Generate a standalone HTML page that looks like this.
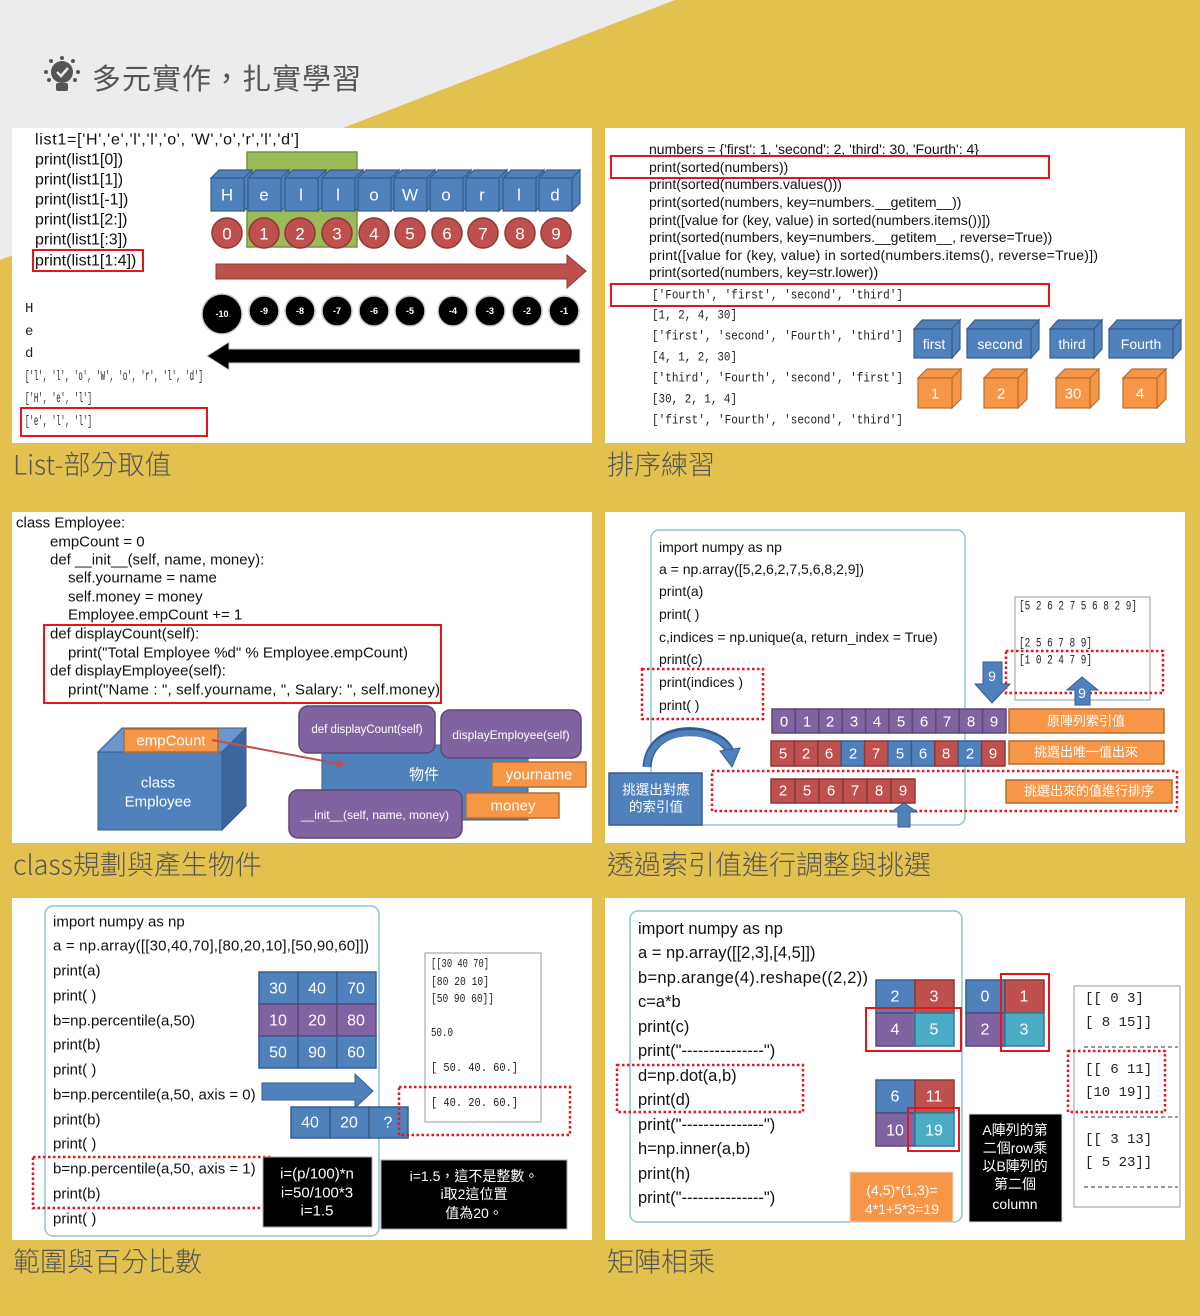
<!DOCTYPE html>
<html><head><meta charset="utf-8"><style>
html,body{margin:0;padding:0;background:#e2c14f;}
svg{display:block}
text{font-family:"Liberation Sans","Noto Sans CJK TC",sans-serif;}
.c{fill:#111;font-size:15px;dominant-baseline:central}
.w{fill:#fff;text-anchor:middle;dominant-baseline:central}
.m text{font-family:"Liberation Mono","Noto Sans CJK TC",monospace;fill:#222;dominant-baseline:central}
.cap{fill:#555;font-size:26px;dominant-baseline:central;font-family:"Noto Sans CJK TC","Liberation Sans",sans-serif;font-weight:300}
.bl{fill:#4f81bd;stroke:#385d8a;stroke-width:1.5}
.rd{fill:#c0504d;stroke:#8c3836;stroke-width:1.5}
.pu{fill:#8064a2;stroke:#5c4776;stroke-width:1.5}
.te{fill:#4bacc6;stroke:#357d91;stroke-width:1.5}
.or{fill:#f79646;stroke:#b66d31;stroke-width:1.5}
.rb{fill:none;stroke:#e8141c;stroke-width:2}
.dr{fill:none;stroke:#e8141c;stroke-width:2.5;stroke-dasharray:2.5 2.5}
</style></head><body>
<svg width="1200" height="1316" viewBox="0 0 1200 1316" xmlns="http://www.w3.org/2000/svg">
<rect width="1200" height="1316" fill="#e2c14f"/>
<polygon points="0,0 675,0 0,260" fill="#ececec"/>
<g fill="#555">
<circle cx="62" cy="72" r="11"/><rect x="56" y="83" width="12" height="8" rx="2"/>
<circle cx="46" cy="72" r="2"/><circle cx="78" cy="72" r="2"/><circle cx="62" cy="58" r="2"/><circle cx="51" cy="61" r="2"/><circle cx="73" cy="61" r="2"/><circle cx="49" cy="80" r="2"/><circle cx="75" cy="80" r="2"/>
</g>
<path d="M57,72 l4,4 l7,-8" stroke="#ececec" stroke-width="2.5" fill="none"/>
<text x="92" y="77" style="font-size:29px;fill:#555;dominant-baseline:central;font-family:'Noto Sans CJK TC',sans-serif;letter-spacing:1px">多元實作，扎實學習</text>

<rect x="12" y="128" width="580" height="315" fill="#fff"/>
<rect x="605" y="128" width="580" height="315" fill="#fff"/>
<rect x="12" y="512" width="580" height="331" fill="#fff"/>
<rect x="605" y="512" width="580" height="331" fill="#fff"/>
<rect x="12" y="898" width="580" height="342" fill="#fff"/>
<rect x="605" y="898" width="580" height="342" fill="#fff"/>

<text class="cap" x="13" y="463" style="font-size:27px">List-部分取值</text>
<text class="cap" x="607" y="463" style="font-size:27px">排序練習</text>
<text class="cap" x="13" y="863" style="font-size:27px">class規劃與產生物件</text>
<text class="cap" x="607" y="863" style="font-size:27px">透過索引值進行調整與挑選</text>
<text class="cap" x="13" y="1260" style="font-size:27px">範圍與百分比數</text>
<text class="cap" x="607" y="1260" style="font-size:27px">矩陣相乘</text>

<!-- P1 -->
<g class="c" style="font-size:16px">
<text x="35" y="140" textLength="264">list1=['H','e','l','l','o', 'W','o','r','l','d']</text>
<text x="35" y="160">print(list1[0])</text>
<text x="35" y="180">print(list1[1])</text>
<text x="35" y="200">print(list1[-1])</text>
<text x="35" y="220">print(list1[2:])</text>
<text x="35" y="240">print(list1[:3])</text>
<text x="35" y="261">print(list1[1:4])</text>
</g>
<rect class="rb" x="33" y="250" width="110" height="21"/>
<rect x="247" y="152" width="110" height="95" fill="#9bbb59" stroke="#77933c" stroke-width="1.5"/>
<g fill="#4f81bd" stroke="#385d8a" stroke-width="1.2">
<polygon points="211,178 219,170 252,170 244,178"/><polygon points="244,178 252,170 252,203 244,211"/><rect x="211" y="178" width="33" height="33"/>
<polygon points="248,178 256,170 289,170 281,178"/><polygon points="281,178 289,170 289,203 281,211"/><rect x="248" y="178" width="33" height="33"/>
<polygon points="285,178 293,170 326,170 318,178"/><polygon points="318,178 326,170 326,203 318,211"/><rect x="285" y="178" width="33" height="33"/>
<polygon points="322,178 330,170 363,170 355,178"/><polygon points="355,178 363,170 363,203 355,211"/><rect x="322" y="178" width="33" height="33"/>
<polygon points="358,178 366,170 399,170 391,178"/><polygon points="391,178 399,170 399,203 391,211"/><rect x="358" y="178" width="33" height="33"/>
<polygon points="394,178 402,170 435,170 427,178"/><polygon points="427,178 435,170 435,203 427,211"/><rect x="394" y="178" width="33" height="33"/>
<polygon points="430,178 438,170 471,170 463,178"/><polygon points="463,178 471,170 471,203 463,211"/><rect x="430" y="178" width="33" height="33"/>
<polygon points="466,178 474,170 507,170 499,178"/><polygon points="499,178 507,170 507,203 499,211"/><rect x="466" y="178" width="33" height="33"/>
<polygon points="503,178 511,170 544,170 536,178"/><polygon points="536,178 544,170 544,203 536,211"/><rect x="503" y="178" width="33" height="33"/>
<polygon points="539,178 547,170 580,170 572,178"/><polygon points="572,178 580,170 580,203 572,211"/><rect x="539" y="178" width="33" height="33"/>
</g>
<g class="w" style="font-size:17px">
<text x="227" y="195">H</text><text x="264" y="195">e</text><text x="301" y="195">l</text><text x="338" y="195">l</text><text x="374" y="195">o</text><text x="410" y="195">W</text><text x="446" y="195">o</text><text x="482" y="195">r</text><text x="519" y="195">l</text><text x="555" y="195">d</text>
</g>
<g class="rd">
<circle cx="227" cy="233" r="15"/><circle cx="264" cy="233" r="15"/><circle cx="300" cy="233" r="15"/><circle cx="337" cy="233" r="15"/><circle cx="374" cy="233" r="15"/><circle cx="410" cy="233" r="15"/><circle cx="447" cy="233" r="15"/><circle cx="483" cy="233" r="15"/><circle cx="520" cy="233" r="15"/><circle cx="556" cy="233" r="15"/>
</g>
<g class="w" style="font-size:17px">
<text x="227" y="234">0</text><text x="264" y="234">1</text><text x="300" y="234">2</text><text x="337" y="234">3</text><text x="374" y="234">4</text><text x="410" y="234">5</text><text x="447" y="234">6</text><text x="483" y="234">7</text><text x="520" y="234">8</text><text x="556" y="234">9</text>
</g>
<polygon points="216,264 567,264 567,255 586,271 567,288 567,279 216,279" fill="#c0504d" stroke="#8c3836" stroke-width="1"/>
<g fill="#000" stroke="#ccc" stroke-width="1.5">
<circle cx="222" cy="314" r="20"/><circle cx="264" cy="311" r="15"/><circle cx="300" cy="311" r="15"/><circle cx="337" cy="311" r="15"/><circle cx="374" cy="311" r="15"/><circle cx="410" cy="311" r="15"/><circle cx="453" cy="311" r="15"/><circle cx="490" cy="311" r="15"/><circle cx="527" cy="311" r="15"/><circle cx="564" cy="311" r="15"/>
</g>
<g class="w" style="font-size:9px;font-weight:bold">
<text x="222" y="314">-10</text><text x="264" y="311">-9</text><text x="300" y="311">-8</text><text x="337" y="311">-7</text><text x="374" y="311">-6</text><text x="410" y="311">-5</text><text x="453" y="311">-4</text><text x="490" y="311">-3</text><text x="527" y="311">-2</text><text x="564" y="311">-1</text>
</g>
<polygon points="207,356 229,342 229,349 580,349 580,363 229,363 229,370" fill="#000" stroke="#ccc" stroke-width="1"/>
<g class="m" style="font-size:14px">
<text x="25" y="309">H</text><text x="25" y="332">e</text><text x="25" y="354">d</text>
<text x="25" y="377" textLength="178" lengthAdjust="spacingAndGlyphs">['l', 'l', 'o', 'W', 'o', 'r', 'l', 'd']</text>
<text x="25" y="399" textLength="67" lengthAdjust="spacingAndGlyphs">['H', 'e', 'l']</text>
<text x="25" y="422" textLength="67" lengthAdjust="spacingAndGlyphs">['e', 'l', 'l']</text>
</g>
<rect class="rb" x="21" y="408" width="186" height="28"/>

<!-- P2 -->
<g class="c" style="font-size:14px">
<text x="649" y="149">numbers = {'first': 1, 'second': 2, 'third': 30, 'Fourth': 4}</text>
<text x="649" y="167">print(sorted(numbers))</text>
<text x="649" y="184">print(sorted(numbers.values()))</text>
<text x="649" y="202">print(sorted(numbers, key=numbers.__getitem__))</text>
<text x="649" y="220">print([value for (key, value) in sorted(numbers.items())])</text>
<text x="649" y="237">print(sorted(numbers, key=numbers.__getitem__, reverse=True))</text>
<text x="649" y="255" textLength="449">print([value for (key, value) in sorted(numbers.items(), reverse=True)])</text>
<text x="649" y="272">print(sorted(numbers, key=str.lower))</text>
</g>
<rect class="rb" x="611" y="156" width="438" height="22"/>
<rect class="rb" x="611" y="284" width="438" height="22"/>
<g class="m" style="font-size:13px">
<text x="652" y="295" textLength="251" lengthAdjust="spacingAndGlyphs">['Fourth', 'first', 'second', 'third']</text>
<text x="652" y="315" textLength="85" lengthAdjust="spacingAndGlyphs">[1, 2, 4, 30]</text>
<text x="652" y="336" textLength="251" lengthAdjust="spacingAndGlyphs">['first', 'second', 'Fourth', 'third']</text>
<text x="652" y="357" textLength="85" lengthAdjust="spacingAndGlyphs">[4, 1, 2, 30]</text>
<text x="652" y="378" textLength="251" lengthAdjust="spacingAndGlyphs">['third', 'Fourth', 'second', 'first']</text>
<text x="652" y="399" textLength="85" lengthAdjust="spacingAndGlyphs">[30, 2, 1, 4]</text>
<text x="652" y="420" textLength="251" lengthAdjust="spacingAndGlyphs">['first', 'Fourth', 'second', 'third']</text>
</g>
<g fill="#4f81bd" stroke="#385d8a" stroke-width="1.2">
<polygon points="914,329 922,320 960,320 952,329"/><polygon points="952,329 960,320 960,349 952,358"/><rect x="914" y="329" width="38" height="29"/>
<polygon points="967,329 975,320 1039,320 1031,329"/><polygon points="1031,329 1039,320 1039,349 1031,358"/><rect x="967" y="329" width="64" height="29"/>
<polygon points="1050,329 1058,320 1102,320 1094,329"/><polygon points="1094,329 1102,320 1102,349 1094,358"/><rect x="1050" y="329" width="44" height="29"/>
<polygon points="1109,329 1117,320 1181,320 1173,329"/><polygon points="1173,329 1181,320 1181,349 1173,358"/><rect x="1109" y="329" width="64" height="29"/>
</g>
<g class="w" style="font-size:14px">
<text x="934" y="344">first</text><text x="1000" y="344">second</text><text x="1072" y="344">third</text><text x="1141" y="344">Fourth</text>
</g>
<g fill="#f79646" stroke="#b66d31" stroke-width="1.2">
<polygon points="918,378 927,369 961,369 952,378"/><polygon points="952,378 961,369 961,399 952,408"/><rect x="918" y="378" width="34" height="30"/>
<polygon points="984,378 993,369 1027,369 1018,378"/><polygon points="1018,378 1027,369 1027,399 1018,408"/><rect x="984" y="378" width="34" height="30"/>
<polygon points="1056,378 1065,369 1099,369 1090,378"/><polygon points="1090,378 1099,369 1099,399 1090,408"/><rect x="1056" y="378" width="34" height="30"/>
<polygon points="1123,378 1132,369 1166,369 1157,378"/><polygon points="1157,378 1166,369 1166,399 1157,408"/><rect x="1123" y="378" width="34" height="30"/>
</g>
<g class="w" style="font-size:15px">
<text x="935" y="394">1</text><text x="1001" y="394">2</text><text x="1073" y="394">30</text><text x="1140" y="394">4</text>
</g>

<!-- P3 -->
<g class="c" style="font-size:15px">
<text x="16" y="523">class Employee:</text>
<text x="50" y="542">empCount = 0</text>
<text x="50" y="560">def __init__(self, name, money):</text>
<text x="68" y="578">self.yourname = name</text>
<text x="68" y="597">self.money = money</text>
<text x="68" y="615">Employee.empCount  += 1</text>
<text x="50" y="634">def displayCount(self):</text>
<text x="68" y="653">print("Total Employee %d" % Employee.empCount)</text>
<text x="50" y="671">def displayEmployee(self):</text>
<text x="68" y="690" textLength="372">print("Name : ", self.yourname, ", Salary: ", self.money)</text>
</g>
<rect class="rb" x="44" y="625" width="397" height="78"/>
<polygon points="98,752 122,728 246,728 222,752" fill="#6b96cc" stroke="#385d8a"/>
<polygon points="222,752 246,728 246,806 222,830" fill="#3c679d" stroke="#385d8a"/>
<rect x="98" y="752" width="124" height="78" fill="#4f81bd" stroke="#385d8a"/>
<rect x="124" y="729" width="94" height="23" class="or"/>
<text class="w" x="171" y="741" style="font-size:15px">empCount</text>
<text class="w" x="158" y="783" style="font-size:15px">class</text>
<text class="w" x="158" y="802" style="font-size:15px">Employee</text>
<rect x="322" y="745" width="206" height="75" fill="#4f81bd" stroke="#385d8a"/>
<text class="w" x="424" y="775" style="font-size:15px">物件</text>
<rect x="299" y="706" width="136" height="47" rx="9" class="pu"/>
<text class="w" x="367" y="730" style="font-size:11.5px">def displayCount(self)</text>
<rect x="441" y="710" width="140" height="48" rx="9" class="pu"/>
<text class="w" x="511" y="735" style="font-size:12px">displayEmployee(self)</text>
<rect x="289" y="790" width="173" height="48" rx="9" class="pu"/>
<text class="w" x="375" y="815" style="font-size:12px">__init__(self, name, money)</text>
<rect x="492" y="762" width="94" height="25" class="or"/>
<text class="w" x="539" y="775" style="font-size:15px">yourname</text>
<rect x="466" y="793" width="93" height="25" class="or"/>
<text class="w" x="513" y="806" style="font-size:15px">money</text>
<line x1="212" y1="740" x2="340" y2="764" stroke="#c0504d" stroke-width="2"/>
<polygon points="346,765 336,768 338,760" fill="#c0504d"/>

<!-- P4 -->
<rect x="651" y="530" width="314" height="295" rx="8" fill="none" stroke="#8cc5cf" stroke-width="1.5"/>
<g class="c" style="font-size:14px">
<text x="659" y="547">import numpy as np</text>
<text x="659" y="569">a = np.array([5,2,6,2,7,5,6,8,2,9])</text>
<text x="659" y="591">print(a)</text>
<text x="659" y="614">print( )</text>
<text x="659" y="637">c,indices = np.unique(a, return_index = True)</text>
<text x="659" y="659">print(c)</text>
<text x="659" y="682">print(indices )</text>
<text x="659" y="705">print( )</text>
</g>
<rect class="dr" x="642" y="669" width="121" height="50"/>
<rect x="1015" y="597" width="135" height="103" fill="#fff" stroke="#999"/>
<g class="m" style="font-size:13px">
<text x="1019" y="606" textLength="118" lengthAdjust="spacingAndGlyphs">[5 2 6 2 7 5 6 8 2 9]</text>
<text x="1019" y="643" textLength="73" lengthAdjust="spacingAndGlyphs">[2 5 6 7 8 9]</text>
<text x="1019" y="660" textLength="73" lengthAdjust="spacingAndGlyphs">[1 0 2 4 7 9]</text>
</g>
<rect class="dr" x="1006" y="651" width="157" height="42"/>
<polygon points="983,662 1002,662 1002,684 1010,684 992,703 975,684 983,684" fill="#4f81bd" stroke="#385d8a"/>
<text class="w" x="992" y="676" style="font-size:14px">9</text>
<polygon points="1075,705 1090,705 1090,690 1098,690 1082,677 1067,690 1075,690" fill="#4f81bd" stroke="#385d8a"/>
<text class="w" x="1082" y="693" style="font-size:14px">9</text>
<g class="pu">
<rect x="772" y="709" width="23.4" height="24"/><rect x="795.4" y="709" width="23.4" height="24"/><rect x="818.8" y="709" width="23.4" height="24"/><rect x="842.2" y="709" width="23.4" height="24"/><rect x="865.6" y="709" width="23.4" height="24"/><rect x="889" y="709" width="23.4" height="24"/><rect x="912.4" y="709" width="23.4" height="24"/><rect x="935.8" y="709" width="23.4" height="24"/><rect x="959.2" y="709" width="23.4" height="24"/><rect x="982.6" y="709" width="23.4" height="24"/>
</g>
<g class="w" style="font-size:15px">
<text x="784" y="722">0</text><text x="807" y="722">1</text><text x="830" y="722">2</text><text x="854" y="722">3</text><text x="877" y="722">4</text><text x="901" y="722">5</text><text x="924" y="722">6</text><text x="947" y="722">7</text><text x="971" y="722">8</text><text x="994" y="722">9</text>
</g>
<rect x="771" y="741" width="23.4" height="25" class="rd"/><rect x="794.4" y="741" width="23.4" height="25" class="rd"/><rect x="817.8" y="741" width="23.4" height="25" class="rd"/><rect x="841.2" y="741" width="23.4" height="25" class="bl"/><rect x="864.6" y="741" width="23.4" height="25" class="rd"/><rect x="888" y="741" width="23.4" height="25" class="bl"/><rect x="911.4" y="741" width="23.4" height="25" class="bl"/><rect x="934.8" y="741" width="23.4" height="25" class="rd"/><rect x="958.2" y="741" width="23.4" height="25" class="bl"/><rect x="981.6" y="741" width="23.4" height="25" class="rd"/>
<g class="w" style="font-size:15px">
<text x="783" y="754">5</text><text x="806" y="754">2</text><text x="829" y="754">6</text><text x="853" y="754">2</text><text x="876" y="754">7</text><text x="900" y="754">5</text><text x="923" y="754">6</text><text x="946" y="754">8</text><text x="970" y="754">2</text><text x="993" y="754">9</text>
</g>
<rect x="1009" y="709" width="155" height="24" class="or" stroke-width="3"/>
<text class="w" x="1086" y="721" style="font-size:13px">原陣列索引值</text>
<rect x="1009" y="741" width="155" height="23" class="or" stroke-width="3"/>
<text class="w" x="1086" y="752" style="font-size:13px">挑選出唯一值出來</text>
<rect class="dr" x="712" y="771" width="465" height="40"/>
<rect x="1006" y="780" width="166" height="23" class="or" stroke-width="3"/>
<text class="w" x="1089" y="791" style="font-size:13px">挑選出來的值進行排序</text>
<g class="rd">
<rect x="771" y="779" width="24" height="24"/><rect x="795" y="779" width="24" height="24"/><rect x="819" y="779" width="24" height="24"/><rect x="843" y="779" width="24" height="24"/><rect x="867" y="779" width="24" height="24"/><rect x="891" y="779" width="24" height="24"/>
</g>
<g class="w" style="font-size:15px">
<text x="783" y="791">2</text><text x="807" y="791">5</text><text x="831" y="791">6</text><text x="855" y="791">7</text><text x="879" y="791">8</text><text x="903" y="791">9</text>
</g>
<polygon points="898,827 910,827 910,812 917,812 904,803 891,812 898,812" fill="#4f81bd" stroke="#385d8a"/>
<rect x="609" y="773" width="93" height="52" fill="#4f81bd" stroke="#385d8a" stroke-width="1.5"/>
<text class="w" x="656" y="790" style="font-size:13.5px">挑選出對應</text>
<text class="w" x="656" y="807" style="font-size:13.5px">的索引值</text>
<path d="M647,767 C650,720 720,725 730,752" fill="none" stroke="#2f5c8f" stroke-width="9"/>
<path d="M647,767 C650,722 720,727 730,752" fill="none" stroke="#4f81bd" stroke-width="6"/>
<polygon points="720,751 740,748 732,767" fill="#4f81bd" stroke="#385d8a"/>

<!-- P5 -->
<rect x="45" y="906" width="334" height="330" rx="8" fill="none" stroke="#8cc5cf" stroke-width="1.5"/>
<g class="c" style="font-size:15px">
<text x="53" y="922">import numpy as np</text>
<text x="53" y="946" textLength="316">a = np.array([[30,40,70],[80,20,10],[50,90,60]])</text>
<text x="53" y="971">print(a)</text>
<text x="53" y="996">print( )</text>
<text x="53" y="1021">b=np.percentile(a,50)</text>
<text x="53" y="1045">print(b)</text>
<text x="53" y="1070">print( )</text>
<text x="53" y="1095">b=np.percentile(a,50, axis  = 0)</text>
<text x="53" y="1120">print(b)</text>
<text x="53" y="1144">print( )</text>
<text x="53" y="1169">b=np.percentile(a,50, axis  = 1)</text>
<text x="53" y="1194">print(b)</text>
<text x="53" y="1219">print( )</text>
</g>
<rect class="dr" x="33" y="1157" width="238" height="51"/>
<rect x="259" y="972" width="39" height="32" class="bl"/><rect x="298" y="972" width="39" height="32" class="bl"/><rect x="337" y="972" width="39" height="32" class="bl"/>
<rect x="259" y="1004" width="39" height="32" class="pu"/><rect x="298" y="1004" width="39" height="32" class="pu"/><rect x="337" y="1004" width="39" height="32" class="pu"/>
<rect x="259" y="1036" width="39" height="32" class="bl"/><rect x="298" y="1036" width="39" height="32" class="bl"/><rect x="337" y="1036" width="39" height="32" class="bl"/>
<g class="w" style="font-size:16px">
<text x="278" y="989">30</text><text x="317" y="989">40</text><text x="356" y="989">70</text>
<text x="278" y="1021">10</text><text x="317" y="1021">20</text><text x="356" y="1021">80</text>
<text x="278" y="1053">50</text><text x="317" y="1053">90</text><text x="356" y="1053">60</text>
</g>
<polygon points="262,1083 355,1083 355,1074 373,1091 355,1108 355,1100 262,1100" fill="#4f81bd" stroke="#385d8a"/>
<rect x="291" y="1107" width="39" height="31" class="bl"/><rect x="330" y="1107" width="39" height="31" class="bl"/><rect x="369" y="1107" width="39" height="31" class="bl"/>
<g class="w" style="font-size:16px">
<text x="310" y="1123">40</text><text x="349" y="1123">20</text><text x="388" y="1123">?</text>
</g>
<rect x="425" y="953" width="116" height="169" fill="#fff" stroke="#999"/>
<g class="m" style="font-size:12px">
<text x="431" y="964" textLength="58" lengthAdjust="spacingAndGlyphs">[[30 40 70]</text>
<text x="431" y="982" textLength="58" lengthAdjust="spacingAndGlyphs"> [80 20 10]</text>
<text x="431" y="999" textLength="63" lengthAdjust="spacingAndGlyphs"> [50 90 60]]</text>
<text x="431" y="1033" textLength="22" lengthAdjust="spacingAndGlyphs">50.0</text>
<text x="431" y="1068" textLength="87" lengthAdjust="spacingAndGlyphs">[ 50.  40.  60.]</text>
<text x="431" y="1103" textLength="87" lengthAdjust="spacingAndGlyphs">[ 40.  20.  60.]</text>
</g>
<rect class="dr" x="399" y="1087" width="171" height="48"/>
<rect x="263" y="1157" width="109" height="70" fill="#000" stroke="#aaa"/>
<g class="w" style="font-size:15px">
<text x="317" y="1174">i=(p/100)*n</text><text x="317" y="1193">i=50/100*3</text><text x="317" y="1211">i=1.5</text>
</g>
<rect x="381" y="1160" width="186" height="69" fill="#000" stroke="#aaa"/>
<g class="w" style="font-size:14px">
<text x="474" y="1176">i=1.5，這不是整數。</text><text x="474" y="1194">i取2這位置</text><text x="474" y="1213">值為20。</text>
</g>

<!-- P6 -->
<rect x="630" y="911" width="332" height="311" rx="8" fill="none" stroke="#8cc5cf" stroke-width="1.5"/>
<g class="c" style="font-size:16.5px">
<text x="638" y="929">import numpy as np</text>
<text x="638" y="953">a = np.array([[2,3],[4,5]])</text>
<text x="638" y="978" textLength="230">b=np.arange(4).reshape((2,2))</text>
<text x="638" y="1002">c=a*b</text>
<text x="638" y="1027">print(c)</text>
<text x="638" y="1051">print("---------------")</text>
<text x="638" y="1076">d=np.dot(a,b)</text>
<text x="638" y="1100">print(d)</text>
<text x="638" y="1125">print("---------------")</text>
<text x="638" y="1149">h=np.inner(a,b)</text>
<text x="638" y="1174">print(h)</text>
<text x="638" y="1198">print("---------------")</text>
</g>
<rect class="dr" x="617" y="1065" width="186" height="47"/>
<rect x="876" y="980" width="39" height="33" class="bl"/><rect x="915" y="980" width="39" height="33" class="rd"/>
<rect x="876" y="1013" width="39" height="33" class="pu"/><rect x="915" y="1013" width="39" height="33" class="te"/>
<rect x="966" y="980" width="39" height="33" class="bl"/><rect x="1005" y="980" width="39" height="33" class="rd"/>
<rect x="966" y="1013" width="39" height="33" class="pu"/><rect x="1005" y="1013" width="39" height="33" class="te"/>
<rect x="876" y="1080" width="39" height="33" class="bl"/><rect x="915" y="1080" width="39" height="33" class="rd"/>
<rect x="876" y="1113" width="39" height="33" class="pu"/><rect x="915" y="1113" width="39" height="33" class="te"/>
<g class="w" style="font-size:16px">
<text x="895" y="997">2</text><text x="934" y="997">3</text><text x="895" y="1030">4</text><text x="934" y="1030">5</text>
<text x="985" y="997">0</text><text x="1024" y="997">1</text><text x="985" y="1030">2</text><text x="1024" y="1030">3</text>
<text x="895" y="1097">6</text><text x="934" y="1097">11</text><text x="895" y="1131">10</text><text x="934" y="1131">19</text>
</g>
<rect class="rb" x="866" y="1008" width="95" height="43" stroke-width="2.5"/>
<rect class="rb" x="1001" y="974" width="48" height="77" stroke-width="2.5"/>
<rect class="rb" x="908" y="1108" width="51" height="43" stroke-width="2.5"/>
<rect x="850" y="1172" width="103" height="50" fill="#f79646" stroke="#ddd"/>
<g class="w" style="font-size:14px">
<text x="902" y="1190">(4,5)*(1,3)=</text><text x="902" y="1209">4*1+5*3=19</text>
</g>
<rect x="969" y="1114" width="93" height="108" fill="#000" stroke="#ddd"/>
<g class="w" style="font-size:14px">
<text x="1015" y="1130">A陣列的第</text><text x="1015" y="1148">二個row乘</text><text x="1015" y="1166">以B陣列的</text><text x="1015" y="1184">第二個</text><text x="1015" y="1204">column</text>
</g>
<rect x="1074" y="986" width="106" height="221" fill="#fff" stroke="#999"/>
<g class="m" style="font-size:14px">
<text x="1085" y="999">[[ 0  3]</text><text x="1085" y="1023"> [ 8 15]]</text>
<text x="1085" y="1070">[[ 6 11]</text><text x="1085" y="1093"> [10 19]]</text>
<text x="1085" y="1140">[[ 3 13]</text><text x="1085" y="1163"> [ 5 23]]</text>
</g>
<g stroke="#333" stroke-dasharray="4 3" stroke-width="1">
<line x1="1084" y1="1047" x2="1178" y2="1047"/><line x1="1084" y1="1117" x2="1178" y2="1117"/><line x1="1084" y1="1187" x2="1178" y2="1187"/>
</g>
<rect class="dr" x="1068" y="1051" width="97" height="61"/>
</svg>
</body></html>
